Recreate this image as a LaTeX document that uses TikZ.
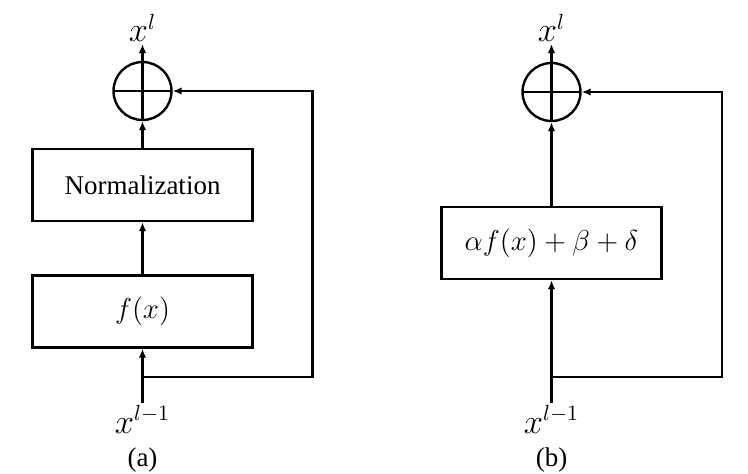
\documentclass[tikz,border=0pt]{standalone}
\usepackage{amsmath,amsfonts}
\usepackage{fontspec}
\setmainfont{Liberation Serif}
\usetikzlibrary{arrows.meta, positioning, calc}

\begin{document}
\begin{tikzpicture}[
        % 定义样式
        x=0.5pt, y=-0.5pt,
        >={Latex[length=4.5pt,width=3.8pt]}, % 箭头样式
        every node/.style={font=\fontsize{13.5pt}{16pt}\selectfont},
        block/.style={
            draw, rectangle, minimum width=110pt, minimum height=36pt,
            line width=1.2pt, inner sep=2pt
        },
        sum/.style={
            draw, circle, minimum size=29pt, inner sep=0pt, line width=1.2pt,
            path picture={
                \draw[line width=1.2pt] (path picture bounding box.north) -- (path picture bounding box.south);
                \draw[line width=1.2pt] (path picture bounding box.west) -- (path picture bounding box.east);
            }
        },
        label/.style={inner sep=1pt, font=\fontsize{16pt}{19pt}\selectfont},
        arrow/.style={->, line width=1.2pt}
    ]
    \useasboundingbox (0,0) rectangle (748,473);

    % 1. (a) 节点
    \node (sum_a) [sum] at (142.5,91) {};
    \node (norm) [block] at (142.5,185) {Normalization};
    \node (fx) [block, font=\fontsize{15pt}{18pt}\selectfont] at (142.5,311.5) {$f(x)$};
    \node (out_a) [label, anchor=south] at (142.5,44) {$x^l$};
    \node (in_a) [label, anchor=north] at (142.5,403) {$x^{l-1}$};
    \node (cap_a) at (142.5,460) {(a)};
    \coordinate (br_a) at (142.5,377);

    % 2. (a) 连接线
    \draw[arrow] (in_a) -- (fx);
    \draw[arrow] (fx) -- (norm);
    \draw[arrow] (norm) -- (sum_a);
    \draw[arrow] (sum_a) -- (out_a);
    % 残差连接
    \draw[arrow] (br_a) -- ++(170,0) |- (sum_a);

    % 3. (b) 节点
    \node (sum_b) [sum] at (551.5,92) {};
    \node (affine) [block] at (551.5,243) {$\alpha f(x) + \beta + \delta$};
    \node (out_b) [label, anchor=south] at (551.5,44) {$x^l$};
    \node (in_b) [label, anchor=north] at (551.5,403) {$x^{l-1}$};
    \node (cap_b) at (551.5,460) {(b)};
    \coordinate (br_b) at (551.5,377);

    % 4. (b) 连接线
    \draw[arrow] (in_b) -- (affine);
    \draw[arrow] (affine) -- (sum_b);
    \draw[arrow] (sum_b) -- (out_b);
    % 残差连接
    \draw[arrow] (br_b) -- ++(170.5,0) |- (sum_b);

\end{tikzpicture}
\end{document}
